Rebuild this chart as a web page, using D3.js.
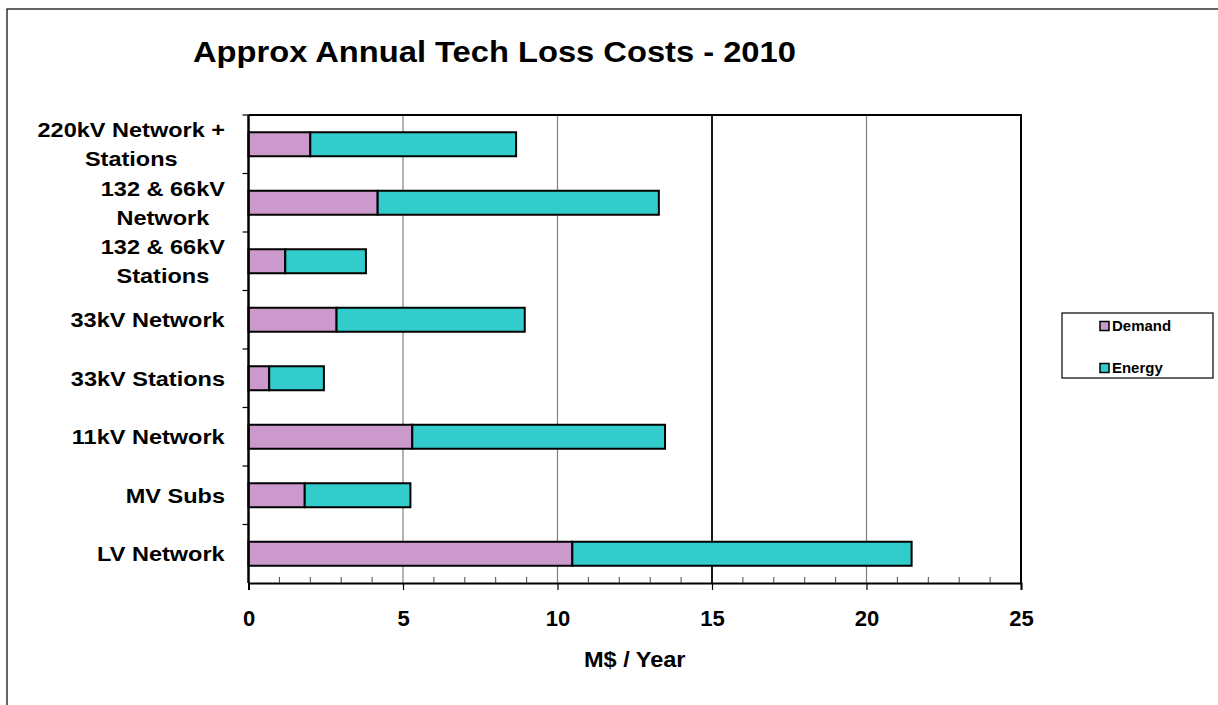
<!DOCTYPE html>
<html>
<head>
<meta charset="utf-8">
<script src="https://cdn.jsdelivr.net/npm/d3@7"></script>
<style>
  body { margin: 0; background: #fff; }
  svg { display: block; font-family: "Liberation Sans", Arial, sans-serif; }
  .tick text { font-size: 22px; font-weight: bold; fill: #000; }
</style>
</head>
<body>
<svg width="1218" height="705"></svg>
<script>
  const categories = [
    ['220kV Network +', 'Stations'],
    ['132 & 66kV', 'Network'],
    ['132 & 66kV', 'Stations'],
    ['33kV Network'],
    ['33kV Stations'],
    ['11kV Network'],
    ['MV Subs'],
    ['LV Network']
  ];
  const demand = [2.0, 4.18, 1.19, 2.85, 0.67, 5.3, 1.82, 10.48];
  const energy = [6.66, 9.1, 2.61, 6.09, 1.77, 8.18, 3.42, 10.98];
  const seriesNames = ['Demand', 'Energy'];
  const seriesColors = ['#cc99cc', '#33cccc'];
  const xTicks = [0, 5, 10, 15, 20, 25];

  const svg = d3.select('svg');
  const margin = { top: 115, right: 197, bottom: 122, left: 248.5 };
  const width = +svg.attr('width');
  const height = +svg.attr('height');
  const keys = categories.map(c => c.join(' '));

  // the source text is a little wider than Arial, stretch it horizontally
  const stretch = 1.12;

  // outer frame (only left and top edges are in view)
  svg.append('rect')
    .attr('x', 7).attr('y', 9)
    .attr('width', 1240).attr('height', 720)
    .attr('fill', 'none').attr('stroke', '#000').attr('stroke-width', 1.2);

  const xScale = d3.scaleLinear()
    .domain([0, 25])
    .range([margin.left, width - margin.right]);

  const yScale = d3.scaleBand()
    .domain(keys)
    .range([margin.top, height - margin.bottom])
    .paddingInner(0.59)
    .paddingOuter(0.295);

  const x0 = xScale.range()[0], x1 = xScale.range()[1];
  const y0 = yScale.range()[0], y1 = yScale.range()[1];

  // gridlines
  svg.append('g').selectAll('line')
    .data(xTicks.filter(v => v > 0 && v < 25))
    .join('line')
      .attr('x1', d => xScale(d)).attr('x2', d => xScale(d))
      .attr('y1', y0).attr('y2', y1)
      .attr('stroke', d => d === 15 ? '#000' : '#808080')
      .attr('stroke-width', d => d === 15 ? 1.8 : 1.2);

  // plot box top + right
  svg.append('path')
    .attr('d', `M${x0},${y0}H${x1}V${y1}`)
    .attr('fill', 'none').attr('stroke', '#000').attr('stroke-width', 2);

  // stacked bars
  const rows = keys.map((k, i) => ({ key: k, Demand: demand[i], Energy: energy[i] }));
  const stacked = d3.stack().keys(seriesNames)(rows);

  svg.append('g').selectAll('g')
    .data(stacked)
    .join('g')
      .attr('fill', (d, i) => seriesColors[i])
    .selectAll('rect')
    .data(d => d)
    .join('rect')
      .attr('x', d => xScale(d[0]))
      .attr('y', d => yScale(d.data.key))
      .attr('width', d => xScale(d[1]) - xScale(d[0]))
      .attr('height', yScale.bandwidth())
      .attr('stroke', '#000')
      .attr('stroke-width', 2);

  // x axis
  const xAxis = d3.axisBottom(xScale)
    .tickValues(xTicks)
    .tickSize(7)
    .tickPadding(20);

  const xAxisG = svg.append('g')
    .attr('transform', `translate(0,${y1})`)
    .call(xAxis);
  xAxisG.select('.domain').attr('stroke-width', 2);
  xAxisG.selectAll('.tick line').attr('stroke-width', 1.2);

  const minor = d3.range(1, 25).filter(v => v % 5 !== 0);
  xAxisG.append('g').selectAll('line')
    .data(minor)
    .join('line')
      .attr('x1', d => xScale(d)).attr('x2', d => xScale(d))
      .attr('y1', 0).attr('y2', -6)
      .attr('stroke', '#444').attr('stroke-width', 1);

  svg.append('text')
    .attr('transform', `translate(${(x0 + x1) / 2},667) scale(1.07,1)`)
    .attr('text-anchor', 'middle')
    .style('font-size', '22px')
    .style('font-weight', 'bold')
    .text('M$ / Year');

  // y axis line + ticks at band boundaries
  svg.append('line')
    .attr('x1', x0).attr('x2', x0)
    .attr('y1', y0).attr('y2', y1)
    .attr('stroke', '#000').attr('stroke-width', 2.5);

  svg.append('g').selectAll('line')
    .data(d3.range(keys.length))
    .join('line')
      .attr('x1', x0 - 6).attr('x2', x0)
      .attr('y1', i => y0 + i * yScale.step())
      .attr('y2', i => y0 + i * yScale.step())
      .attr('stroke', '#000').attr('stroke-width', 1.2);

  // category labels, lines centred within a right-aligned block
  const labelRight = 225;
  const lineHeight = 29;
  const labelG = svg.append('g');
  categories.forEach((lines, i) => {
    const cy = yScale(keys[i]) + yScale.bandwidth() / 2;
    const g = labelG.append('g')
      .attr('transform', `translate(${labelRight},${cy}) scale(${stretch},1)`);
    const t = g.append('text')
      .style('font-size', '21px')
      .style('font-weight', 'bold')
      .attr('text-anchor', 'middle');
    lines.forEach((ln, j) => {
      t.append('tspan')
        .attr('x', 0)
        .attr('y', (j - (lines.length - 1) / 2) * lineHeight)
        .attr('dy', '0.35em')
        .text(ln);
    });
    const w = t.node().getBBox().width;
    t.selectAll('tspan').attr('x', -w / 2);
  });

  // title
  svg.append('text')
    .attr('transform', 'translate(193,62) scale(1.09,1)')
    .style('font-size', '30px')
    .style('font-weight', 'bold')
    .text('Approx Annual Tech Loss Costs - 2010');

  // legend
  const legend = svg.append('g');
  legend.append('rect')
    .attr('x', 1062).attr('y', 313)
    .attr('width', 151).attr('height', 65)
    .attr('fill', '#fff').attr('stroke', '#000').attr('stroke-width', 1.2);

  const item = legend.selectAll('g.item')
    .data(seriesNames)
    .join('g')
      .attr('class', 'item')
      .attr('transform', (d, i) => `translate(1100,${326 + i * 42})`);

  item.append('rect')
    .attr('x', 0).attr('y', -4.5)
    .attr('width', 9).attr('height', 9)
    .attr('fill', (d, i) => seriesColors[i])
    .attr('stroke', '#000').attr('stroke-width', 1.5);

  item.append('text')
    .attr('transform', 'translate(12,0) scale(1.07,1)')
    .attr('dy', '0.36em')
    .style('font-size', '14px')
    .style('font-weight', 'bold')
    .text(d => d);
</script>
</body>
</html>
